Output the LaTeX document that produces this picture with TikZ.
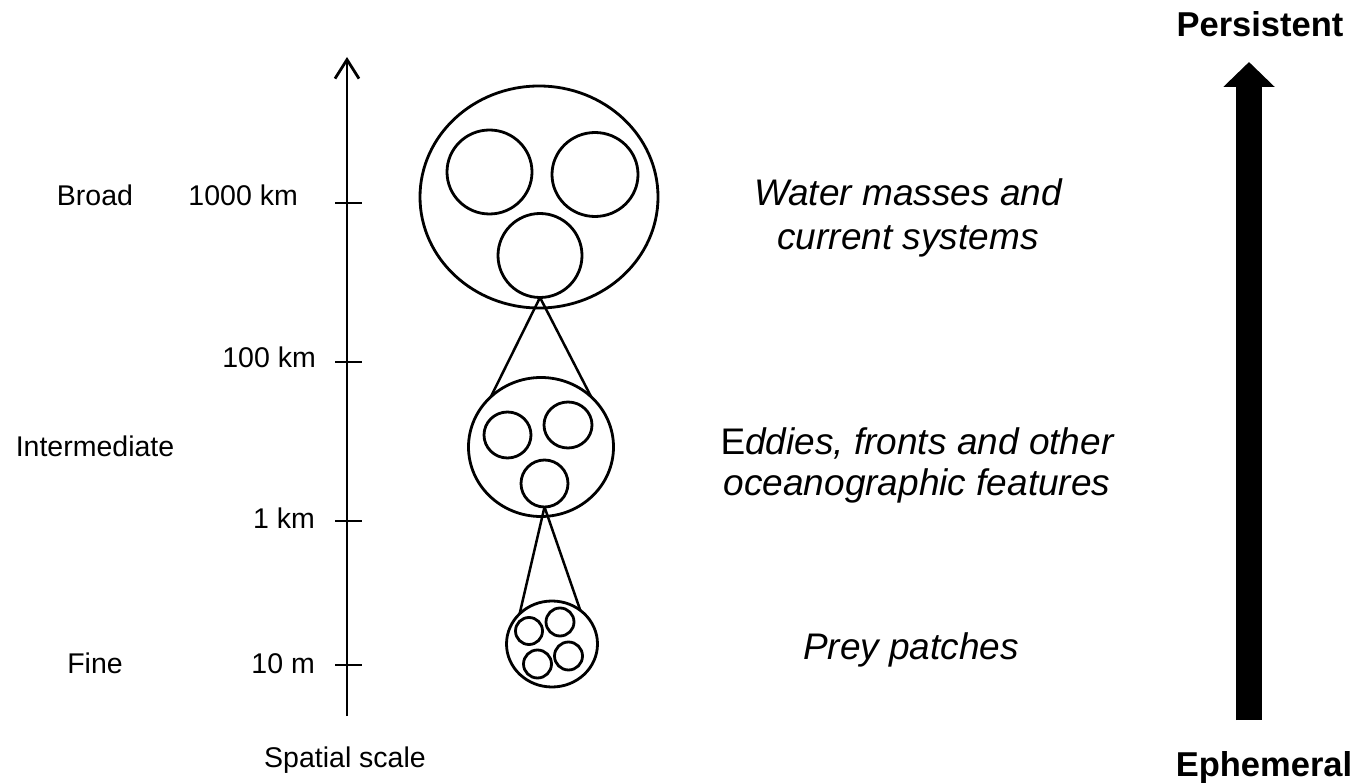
\documentclass[tikz,border=0pt]{standalone}
\usepackage{fontspec}
\setmainfont{Liberation Sans}
\usetikzlibrary{shapes.geometric,arrows.meta}
\tikzset{
  ring/.style={ellipse, draw, line width=2.8pt, inner sep=0pt, outer sep=0pt},
  conn/.style={line width=2.5pt},
  axislbl/.style={font=\fontsize{28.5}{34}\selectfont, inner sep=0pt, anchor=base},
  scalelbl/.style={font=\fontsize{28.5}{34}\selectfont, inner sep=0pt, anchor=base east},
  featlbl/.style={font=\fontsize{37}{44}\selectfont\itshape, inner sep=0pt, align=center},
  endlbl/.style={font=\fontsize{34.5}{40}\selectfont\bfseries, inner sep=0pt, anchor=base},
}
\begin{document}
\begin{tikzpicture}[x=1pt,y=-1pt]
\useasboundingbox[fill=white] (0,0) rectangle (1360,783);

% vertical spatial-scale axis with ticks
\coordinate (axb) at (347,716);
\coordinate (axt) at (347,57);
\draw[line width=2.8pt, -{Straight Barb[length=19pt,width=24pt]}] (axb) -- (axt);
\foreach \y in {203,362,521,665}
  \draw[line width=2.8pt] (335,\y) -- (362,\y);

% scale labels
\node[axislbl] (broad) at (95,206) {Broad};
\node[axislbl] (inter) at (95,456) {Intermediate};
\node[axislbl] (fine) at (95,673) {Fine};
\node[scalelbl] (k1000) at (298,206) {1000 km};
\node[scalelbl] (k100) at (316,368) {100 km};
\node[scalelbl] (k1) at (315,528) {1 km};
\node[scalelbl] (m10) at (315,673) {10 m};
\node[axislbl] (spatial) at (345,767) {Spatial scale};

% nested circles: broad scale
\node[ring, minimum width=238pt, minimum height=222pt] (big) at (539,197) {};
\node[ring, minimum width=85pt, minimum height=84pt] (b1) at (489.5,172) {};
\node[ring, minimum width=86pt, minimum height=84pt] (b2) at (595,174.5) {};
\node[ring, minimum width=84pt, minimum height=84pt] (b3) at (540,255.5) {};

% intermediate scale
\node[ring, minimum width=145pt, minimum height=139pt] (mid) at (541,447) {};
\node[ring, minimum width=47pt, minimum height=46pt] (m1) at (507.5,435) {};
\node[ring, minimum width=48pt, minimum height=46pt] (m2) at (568,425) {};
\node[ring, minimum width=47pt, minimum height=47pt] (m3) at (544.5,483.5) {};

% fine scale
\node[ring, minimum width=91pt, minimum height=86pt] (sm) at (552,644) {};
\node[ring, minimum width=27pt, minimum height=27pt] (s1) at (529,631) {};
\node[ring, minimum width=28pt, minimum height=28pt] (s2) at (560,622) {};
\node[ring, minimum width=28pt, minimum height=28pt] (s3) at (537.5,664) {};
\node[ring, minimum width=28pt, minimum height=28pt] (s4) at (568.5,656) {};

% zoom cones
\draw[conn] (b3.south) -- (mid.135);
\draw[conn] (b3.south) -- (mid.45);
\draw[conn] (m3.south) -- (sm.137);
\draw[conn] (m3.south) -- (sm.50);

% feature labels
\node[featlbl, font=\fontsize{37}{44}\selectfont\itshape] (water) at (908,218) {Water masses and\\current systems};
\node[featlbl, font=\fontsize{37}{41}\selectfont\itshape] (eddy) at (917,465) {\upshape E\itshape ddies, fronts and other\\oceanographic features};
\node[featlbl] (prey) at (911,650) {Prey patches};

% persistence arrow
\node[endlbl] (pers) at (1260,37) {Persistent};
\node[endlbl] (ephem) at (1264,776) {Ephemeral};
\coordinate (pa) at (1249,720);
\coordinate (pb) at (1249,62);
\draw[line width=26pt, -{Triangle[length=25pt,width=50pt]}] (pa) -- (pb);
\end{tikzpicture}
\end{document}
